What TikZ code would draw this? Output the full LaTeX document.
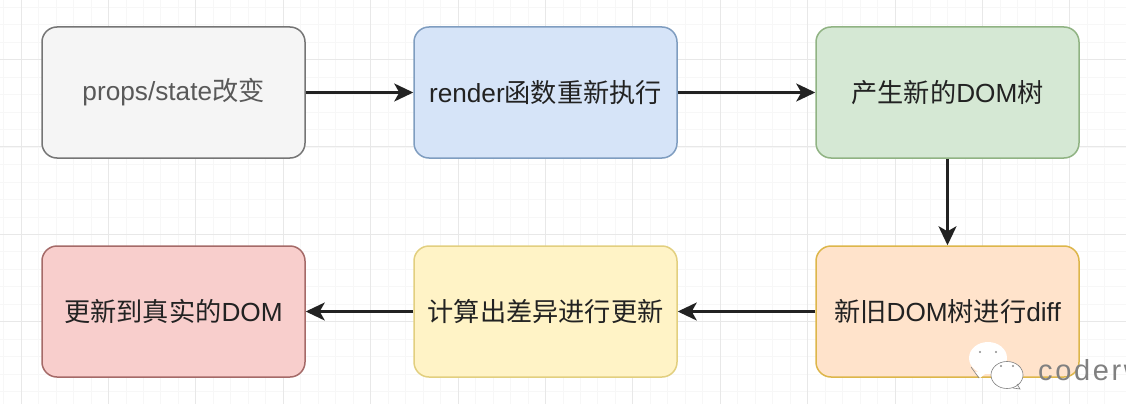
\documentclass[tikz,border=0pt]{standalone}
\usepackage{fontspec}
\setmainfont{Liberation Sans}
\newfontfamily\cjk{Noto Sans CJK SC}
\newfontfamily\markfont[LetterSpace=9]{Liberation Sans}
\usetikzlibrary{arrows.meta}
\definecolor{gfill}{HTML}{F5F5F5}\definecolor{gline}{HTML}{757575}
\definecolor{bfill}{HTML}{D6E4F8}\definecolor{bline}{HTML}{7F9DC0}
\definecolor{nfill}{HTML}{D5E8D4}\definecolor{nline}{HTML}{90B383}
\definecolor{ofill}{HTML}{FFE3CB}\definecolor{oline}{HTML}{DDB64A}
\definecolor{yfill}{HTML}{FFF3C6}\definecolor{yline}{HTML}{E2CF7F}
\definecolor{rfill}{HTML}{F8CECC}\definecolor{rline}{HTML}{A56A68}
\definecolor{ink}{HTML}{222222}
\tikzset{
  flowbox/.style={draw, rounded corners=15pt, line width=1.5pt, minimum width=263pt, minimum height=131pt, inner sep=0pt, font=\fontsize{26.2}{31}\selectfont, text=ink},
  flowarrow/.style={draw=ink, line width=2.1pt, -{Stealth[length=19pt,width=18pt,inset=5pt]}},
  gridmajor/.style={draw=black!9, line width=0.9pt},
  gridminor/.style={draw=black!3, line width=0.7pt},
  chatbubble/.style={draw=black!50, line width=0.6pt, fill=white}
}
\begin{document}
\begin{tikzpicture}[x=1pt,y=-1pt]
\useasboundingbox (0,0) rectangle (1126,404);
\fill[white] (0,0) rectangle (1126,404);
\foreach \i in {0,...,63}{
  \draw[gridminor] ({3.52+17.48*\i},0) -- ({3.52+17.48*\i},404);
}
\foreach \i in {0,...,23}{
  \draw[gridminor] (0,{7.1+17.48*\i}) -- (1126,{7.1+17.48*\i});
}
\foreach \i in {0,...,12}{
  \draw[gridmajor] ({21+87.4*\i},0) -- ({21+87.4*\i},404);
}
\foreach \j in {0,...,3}{
  \draw[gridmajor] (0,{59.5+87.4*\j}) -- (1126,{59.5+87.4*\j});
}
\node[flowbox, draw=gline, fill=gfill, text=black!65] (props) at (173.5,92.5) {props/state{\cjk 改变}};
\node[flowbox, draw=bline, fill=bfill] (render) at (545.5,92.5) {render{\cjk 函数重新执行}};
\node[flowbox, draw=nline, fill=nfill] (newdom) at (947.5,92.5) {{\cjk 产生新的}DOM{\cjk 树}};
\node[flowbox, draw=oline, fill=ofill] (diff) at (947.5,311.5) {{\cjk 新旧}DOM{\cjk 树进行}diff};
\node[flowbox, draw=yline, fill=yfill] (calc) at (545.5,311.5) {{\cjk 计算出差异进行更新}};
\node[flowbox, draw=rline, fill=rfill] (update) at (173.5,311.5) {{\cjk 更新到真实的}DOM};
\draw[flowarrow] (props) -- (render);
\draw[flowarrow] (render) -- (newdom);
\draw[flowarrow] (newdom) -- (diff);
\draw[flowarrow] (diff) -- (calc);
\draw[flowarrow] (calc) -- (update);
% watermark
\fill[white] (988,358) ellipse (19pt and 16pt);
\fill[white] (975,372) -- (980,378) -- (990,370) -- cycle;
\draw[black!50, line width=0.6pt] (979,378) -- (971,367);
\draw[chatbubble] (1007,375) ellipse (16pt and 13.5pt);
\draw[black!50, line width=0.6pt] (1013,388) -- (1020,389) -- (1017,384);
\fill[black!45] (980,352) circle (1.1pt) (996,352) circle (1.1pt) (1001,366) circle (1.1pt) (1013,366) circle (1.1pt);
\begin{scope}
\clip (0,0) rectangle (1126,404);
\node[anchor=west, inner sep=0pt, text=black!50, font=\fontsize{29}{34}\markfont] (mark) at (1038,370) {coderw};
\end{scope}
\end{tikzpicture}
\end{document}
